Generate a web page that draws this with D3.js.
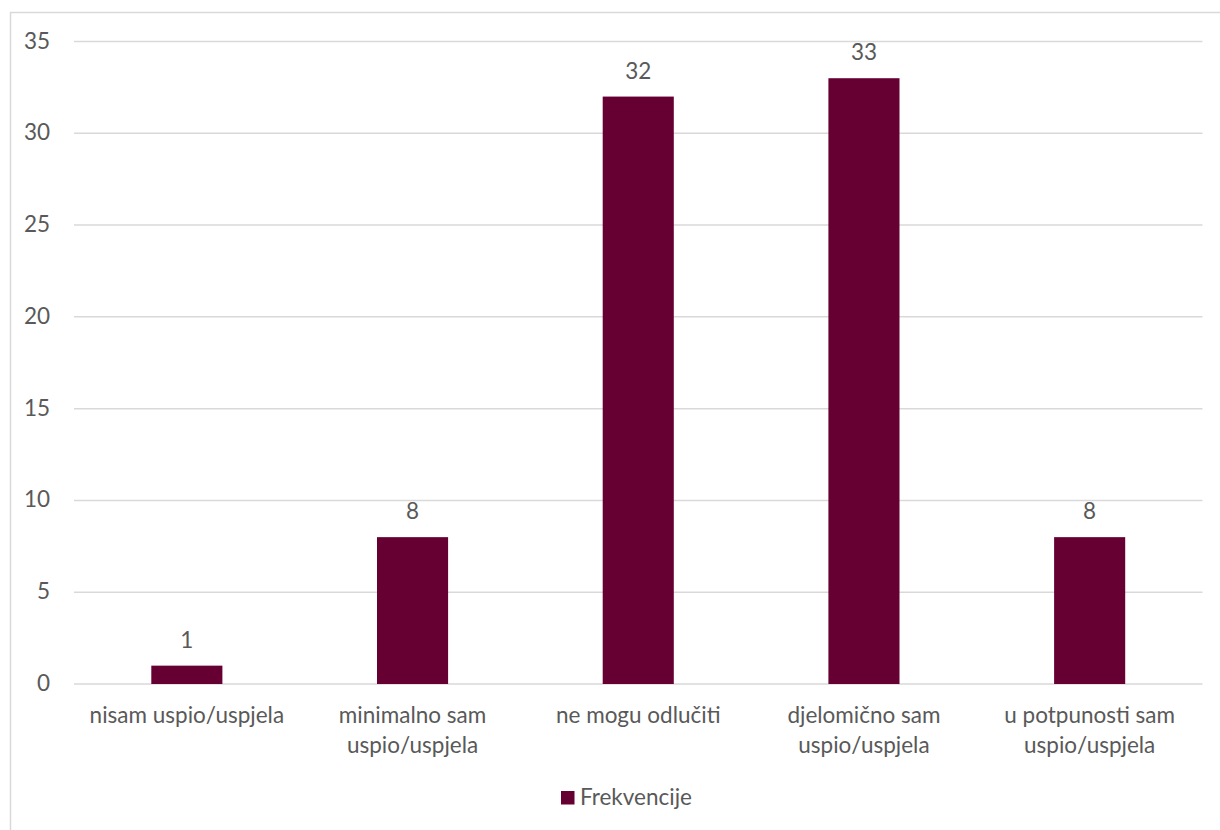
<!DOCTYPE html>
<html><head><meta charset="utf-8">
<script src="https://cdn.jsdelivr.net/npm/d3@7"></script>
<style>
html,body{margin:0;padding:0;background:#fff;}
svg text{font-family:Lato,"Open Sans",sans-serif;fill:#595959;}
</style></head>
<body>
<svg id="chart" width="1220" height="830"></svg>
<script>
const categories = [["nisam uspio/uspjela"],["minimalno sam","uspio/uspjela"],["ne mogu odlučiti"],["djelomično sam","uspio/uspjela"],["u potpunosti sam","uspio/uspjela"]];
const values = [1, 8, 32, 33, 8];
const yTicks = [0, 5, 10, 15, 20, 25, 30, 35];
const seriesName = "Frekvencije";

(function(){
const svg = d3.select("#chart");
const color = "#660033";
const fs = 22.5;
const mLeft = 74, mRight = 1202.5, mTop = 41.5, mBottom = 684;

svg.append("rect").attr("x",10.5).attr("y",12.5).attr("width",1230).attr("height",840)
  .attr("fill","none").attr("stroke","#d9d9d9").attr("stroke-width",1.5);

const x = d3.scaleBand().domain(d3.range(values.length)).range([mLeft,mRight]).paddingInner(0.685).paddingOuter(0.3425);
const y = d3.scaleLinear().domain([0,35]).range([mBottom,mTop]);

svg.append("g").selectAll("line").data(yTicks).join("line")
  .attr("x1",mLeft).attr("x2",mRight).attr("y1",d=>y(d)).attr("y2",d=>y(d))
  .attr("stroke","#d9d9d9").attr("stroke-width",1.5);

svg.append("g").selectAll("text").data(yTicks).join("text")
  .attr("x",50).attr("y",d=>y(d)+7).attr("text-anchor","end").attr("font-size",fs).text(d=>d);

svg.append("g").selectAll("rect").data(values).join("rect")
  .attr("x",(d,i)=>x(i)).attr("width",x.bandwidth())
  .attr("y",d=>y(d)).attr("height",d=>y(0)-y(d)).attr("fill",color);

svg.append("g").selectAll("text").data(values).join("text")
  .attr("x",(d,i)=>x(i)+x.bandwidth()/2).attr("y",d=>y(d)-18)
  .attr("text-anchor","middle").attr("font-size",fs).text(d=>d);

const lab = svg.append("g").selectAll("text").data(categories).join("text")
  .attr("x",(d,i)=>x(i)+x.bandwidth()/2).attr("y",723)
  .attr("text-anchor","middle").attr("font-size",fs);
lab.each(function(d){
  const t=d3.select(this);
  d.forEach((line,k)=>{
    t.append("tspan").attr("x",t.attr("x")).attr("dy",k===0?0:30).text(line);
  });
});

svg.append("rect").attr("x",561).attr("y",791).attr("width",13.5).attr("height",13.5).attr("fill",color);
svg.append("text").attr("x",580).attr("y",805).attr("font-size",fs).text(seriesName);
})();
</script>
</body></html>
